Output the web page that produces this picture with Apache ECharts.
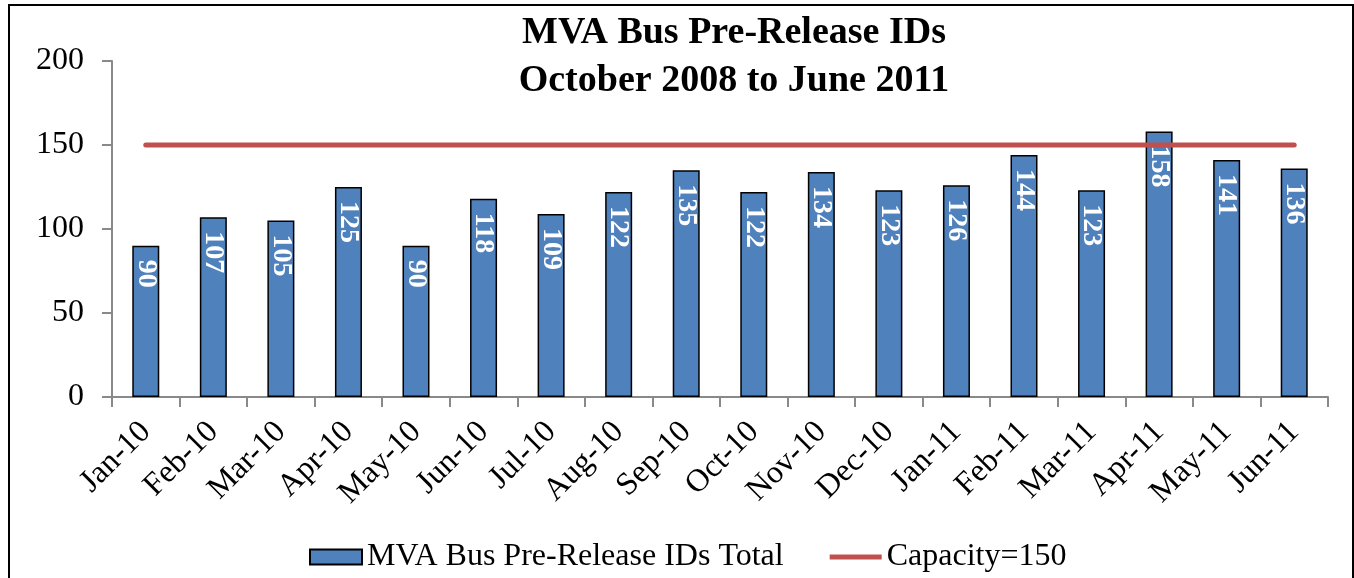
<!DOCTYPE html>
<html>
<head>
<meta charset="utf-8">
<script src="https://cdn.jsdelivr.net/npm/echarts@6/dist/echarts.min.js"></script>
<style>
  body { margin: 0; background: #fff; overflow: hidden; }
  #box {
    position: absolute;
    left: 8px;
    top: 4px;
    width: 1342px;
    height: 620px;
    border: 2px solid #000;
  }
  #chart { position: absolute; left: 0; top: 0; width: 1354px; height: 578px; }
</style>
</head>
<body>
<div id="box"></div>
<div id="chart"></div>
<script>
// months on the x axis
const months = ["Jan-10", "Feb-10", "Mar-10", "Apr-10", "May-10", "Jun-10", "Jul-10", "Aug-10", "Sep-10",
  "Oct-10", "Nov-10", "Dec-10", "Jan-11", "Feb-11", "Mar-11", "Apr-11", "May-11", "Jun-11"];
// bus pre-release IDs total per month
const totals = [90, 107, 105, 125, 90, 118, 109, 122, 135, 122, 134, 123, 126, 144, 123, 158, 141, 136];
// capacity line
const capacity = [150, 150, 150, 150, 150, 150, 150, 150, 150, 150, 150, 150, 150, 150, 150, 150, 150, 150];

const serif = "'Liberation Serif', 'Times New Roman', serif";
const axisGray = "#898989";

const myChart = echarts.init(document.getElementById("chart"));
const option = {
  animation: false,
  title: {
    text: "MVA Bus Pre-Release IDs\nOctober 2008 to June 2011",
    left: 729,
    top: 4,
    textAlign: "center",
    textStyle: {
      fontFamily: serif,
      fontSize: 38,
      fontWeight: "bold",
      color: "#000",
      lineHeight: 48
    }
  },
  legend: {
    left: 304,
    top: 536,
    itemWidth: 52,
    itemHeight: 15,
    itemGap: 46,
    textStyle: { fontFamily: serif, fontSize: 32, color: "#000" },
    data: [
      { name: "MVA Bus Pre-Release IDs Total", icon: "rect" },
      { name: "Capacity=150", icon: "path://M0,0 L100,0 L100,10 L0,10 Z" }
    ]
  },
  grid: { left: 112, right: 26, top: 61, bottom: 181 },
  xAxis: {
    type: "category",
    data: months,
    axisLine: { lineStyle: { color: axisGray, width: 2 } },
    axisTick: { show: true, length: 10, lineStyle: { color: axisGray, width: 2 } },
    axisLabel: {
      rotate: 45,
      margin: 30,
      fontFamily: serif,
      fontSize: 32,
      color: "#000"
    }
  },
  yAxis: {
    type: "value",
    min: 0,
    max: 200,
    interval: 50,
    splitLine: { show: false },
    axisLine: { show: true, lineStyle: { color: axisGray, width: 2 } },
    axisTick: { show: true, length: 10, lineStyle: { color: axisGray, width: 2 } },
    axisLabel: { margin: 28, fontFamily: serif, fontSize: 32, color: "#000" }
  },
  series: [
    {
      name: "MVA Bus Pre-Release IDs Total",
      type: "bar",
      data: totals,
      barWidth: 27,
      itemStyle: { color: "#4F81BD", borderColor: "#000", borderWidth: 1.5 },
      label: {
        show: true,
        position: "insideTop",
        rotate: -90,
        align: "left",
        verticalAlign: "middle",
        distance: 14,
        fontFamily: serif,
        fontSize: 28,
        fontWeight: "bold",
        color: "#fff"
      }
    },
    {
      name: "Capacity=150",
      type: "line",
      data: capacity,
      symbol: "none",
      lineStyle: { color: "#C0504D", width: 5, cap: "round" },
      itemStyle: { color: "#C0504D" }
    }
  ]
};
myChart.setOption(option);
</script>
</body>
</html>
